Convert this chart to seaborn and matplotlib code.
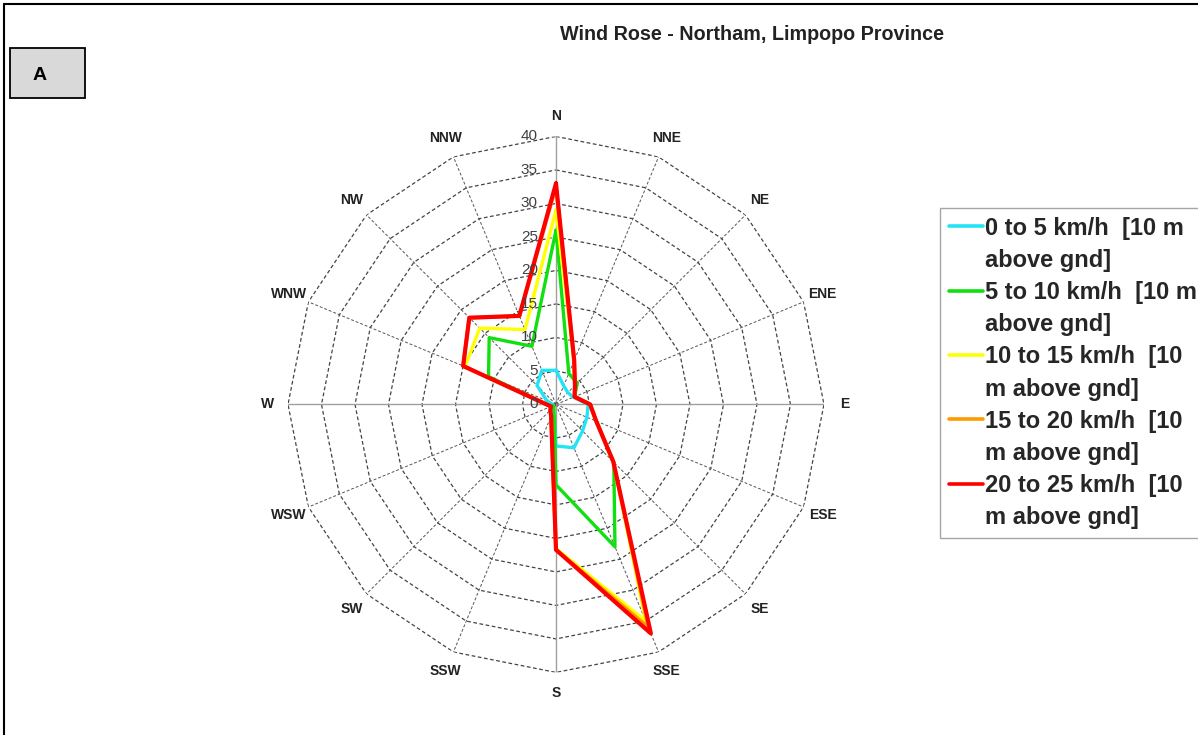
import numpy as np
import pandas as pd
import matplotlib
matplotlib.use("Agg")
import matplotlib.pyplot as plt
import matplotlib.transforms as mtransforms
from matplotlib.lines import Line2D
from matplotlib.patches import Rectangle
import seaborn as sns

#-----------------------------------------
# data (frequency, %)
#-----------------------------------------
directions = ['N', 'NNE', 'NE', 'ENE', 'E', 'ESE', 'SE', 'SSE',
              'S', 'SSW', 'SW', 'WSW', 'W', 'WNW', 'NW', 'NNW']

speed_0_5 = [5.1, 3.0, 2.5, 2.8, 4.8, 5.0, 5.6, 7.0, 6.2, 1.0, 0.5, 0.5, 0.5, 1.5, 4.0, 5.5]
speed_5_10 = [26.0, 5.0, 4.5, 3.0, 5.0, 6.5, 12.2, 23.0, 12.0, 0.8, 0.5, 0.5, 1.5, 10.9, 14.1, 9.4]
speed_10_15 = [29.0, 7.0, 4.0, 3.0, 5.1, 6.5, 12.1, 35.0, 21.5, 1.9, 1.2, 0.8, 1.5, 14.7, 16.1, 12.1]
speed_15_20 = [32.5, 7.1, 4.0, 3.0, 5.1, 6.5, 12.1, 36.0, 21.7, 1.9, 1.2, 0.8, 1.4, 15.0, 18.3, 14.3]
speed_20_25 = [33.0, 7.1, 4.0, 3.0, 5.1, 6.5, 12.1, 37.0, 21.7, 1.9, 1.2, 0.8, 1.4, 15.0, 18.3, 14.3]

series_names = ['0 to 5 km/h  [10 m', '5 to 10 km/h  [10 m', '10 to 15 km/h  [10',
                '15 to 20 km/h  [10', '20 to 25 km/h  [10']
second_lines = ['above gnd]', 'above gnd]', 'm above gnd]', 'm above gnd]', 'm above gnd]']
series_values = [speed_0_5, speed_5_10, speed_10_15, speed_15_20, speed_20_25]
colors = ['#22e4f4', '#10e010', '#ffff00', '#ff9a00', '#ff0000']
widths = [2.4, 2.4, 2.4, 2.6, 3.0]

ring_values = [5, 10, 15, 20, 25, 30, 35, 40]
tick_values = [0, 5, 10, 15, 20, 25, 30, 35, 40]

#-----------------------------------------
# long table for seaborn
#-----------------------------------------
theta = np.deg2rad(np.arange(len(directions)) * 22.5)
theta_closed = np.append(theta, 2 * np.pi)

rows = []
for name, vals in zip(series_names, series_values):
    closed = list(vals) + [vals[0]]
    for i, (t, v) in enumerate(zip(theta_closed, closed)):
        rows.append({'series': name, 'order': i, 'theta': t, 'value': v})
df = pd.DataFrame(rows)

sns.set_style("white")
plt.rcParams['font.family'] = ['Liberation Sans', 'DejaVu Sans']

fig = plt.figure(figsize=(11.98, 7.35), dpi=100)
ax = fig.add_axes([0.2404, 0.0851, 0.4474, 0.7293], projection='polar')
ax.set_theta_zero_location('N')
ax.set_theta_direction(-1)

#-----------------------------------------
# Excel style polygon grid
#-----------------------------------------
for r in ring_values:
    ax.plot(theta_closed, [r] * len(theta_closed), color='#444444', lw=0.9,
            ls=(0, (3, 2)), zorder=1)
for i, t in enumerate(theta):
    if i % 4 == 0:
        ax.plot([t, t], [0, 40], color='#a0a0a0', lw=1.0, zorder=1)
    else:
        ax.plot([t, t], [0, 40], color='#555555', lw=0.7, ls=(0, (3, 2)), zorder=1)

sns.lineplot(data=df, x='theta', y='value', hue='series', hue_order=series_names,
             palette=dict(zip(series_names, colors)), size='series',
             sizes=dict(zip(series_names, widths)), sort=False, estimator=None,
             units='series', legend=False, ax=ax, zorder=3)

ax.set_ylim(0, 40)
ax.grid(False)
ax.set_xticks([])
ax.set_yticks([])
ax.set_xlabel('')
ax.set_ylabel('')
ax.spines['polar'].set_visible(False)
ax.set_facecolor('none')

# radial labels along the N spoke
lab_tr = mtransforms.offset_copy(ax.transData, fig=fig, x=-13, y=0, units='points')
for r in tick_values:
    ax.text(0, r, str(r), transform=lab_tr, ha='right', va='center',
            fontsize=11, color='#404040')

# direction labels
for d, t in zip(directions, theta):
    ax.text(t, 43.1, d, ha='center', va='center', fontsize=10,
            fontweight='bold', color='#222222')

#-----------------------------------------
# legend (two text rows per series, line on the first one)
#-----------------------------------------
handles = []
labels = []
for name, second, c in zip(series_names, second_lines, colors):
    handles.append(Line2D([0], [0], color=c, lw=2.6))
    labels.append(name)
    handles.append(Line2D([0], [0], color='none', lw=0))
    labels.append(second)
leg = ax.legend(handles, labels, loc='upper left',
                bbox_to_anchor=(940 / 1198, 1 - 208 / 735),
                bbox_transform=fig.transFigure, borderaxespad=0,
                prop={'weight': 'bold', 'size': 17}, handlelength=1.45,
                handletextpad=0.08, borderpad=0.36, labelspacing=0.39,
                frameon=True, fancybox=False, edgecolor='#909090')
leg.get_frame().set_linewidth(1.0)

#-----------------------------------------
# title, panel tag and frame
#-----------------------------------------
fig.text(752 / 1198, 1 - 35 / 735, 'Wind Rose - Northam, Limpopo Province',
         ha='center', va='center', fontsize=14.2, fontweight='bold', color='#222222')

fig.patches.append(Rectangle((10 / 1198, 1 - 98 / 735), 75 / 1198, 50 / 735,
                             transform=fig.transFigure, facecolor='#d9d9d9',
                             edgecolor='black', lw=1.3))
fig.text(40 / 1198, 1 - 75 / 735, 'A', ha='center', va='center', fontsize=14,
         fontweight='bold', color='black')

fig.add_artist(Line2D([4 / 1198, 4 / 1198], [0, 1 - 4 / 735], transform=fig.transFigure,
                      color='black', lw=1.5))
fig.add_artist(Line2D([4 / 1198, 1], [1 - 4 / 735, 1 - 4 / 735], transform=fig.transFigure,
                      color='black', lw=1.5))

plt.savefig('out.png', dpi=100)
